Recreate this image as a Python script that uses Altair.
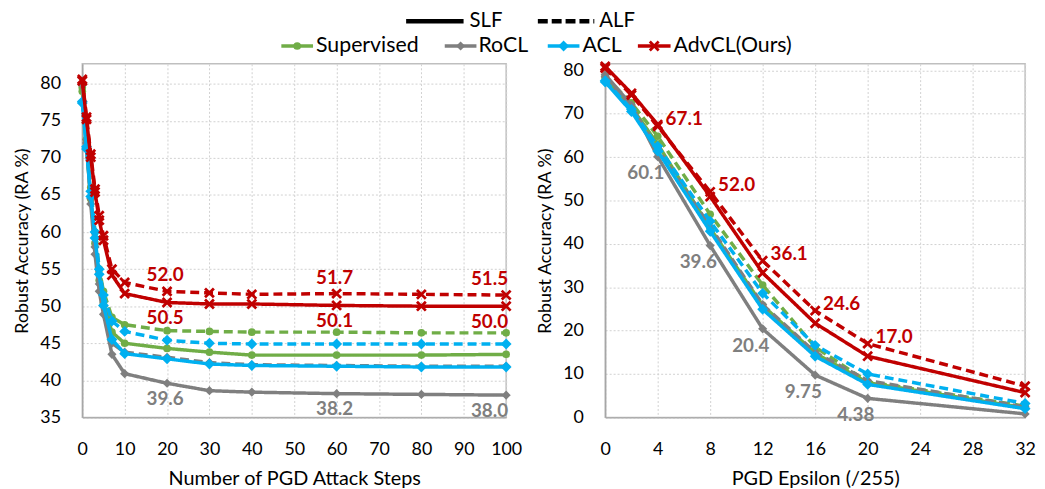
import altair as alt
import pandas as pd

methods = ["Supervised", "RoCL", "ACL", "AdvCL(Ours)"]
colors = ["#70AD47", "#7F7F7F", "#00B0F0", "#C00000"]
losses = ["SLF", "ALF"]

# ---- left panel: number of PGD attack steps ----
steps = [0, 1, 2, 3, 4, 5, 7, 10, 20, 30, 40, 60, 80, 100]
sup_slf_steps = [79.0, 71.5, 64.5, 58.5, 53.5, 50.5, 46.5, 45.0, 44.3, 43.8, 43.4, 43.4, 43.4, 43.5]
sup_alf_steps = [79.5, 72.5, 66.0, 60.0, 55.0, 52.0, 48.5, 47.5, 46.7, 46.6, 46.5, 46.5, 46.4, 46.4]
rocl_slf_steps = [79.8, 72.0, 63.8, 57.0, 52.0, 48.9, 43.5, 40.9, 39.6, 38.6, 38.4, 38.2, 38.1, 38.0]
rocl_alf_steps = [80.0, 72.5, 64.5, 58.0, 53.0, 50.0, 45.0, 43.8, 43.1, 42.4, 42.1, 42.0, 41.9, 41.9]
acl_slf_steps = [77.4, 71.2, 64.8, 59.2, 54.3, 50.1, 45.5, 43.6, 42.9, 42.2, 42.0, 41.9, 41.8, 41.8]
acl_alf_steps = [77.6, 71.5, 65.5, 60.0, 55.0, 51.5, 48.0, 46.6, 45.4, 45.0, 44.9, 44.9, 44.9, 44.9]
advcl_slf_steps = [80.4, 75.2, 70.1, 65.4, 61.6, 58.9, 54.2, 51.7, 50.5, 50.3, 50.3, 50.1, 50.0, 50.0]
advcl_alf_steps = [80.6, 75.5, 70.5, 65.8, 62.2, 59.5, 55.0, 53.2, 52.0, 51.8, 51.6, 51.7, 51.6, 51.5]

# ---- right panel: PGD epsilon ----
eps = [0, 2, 4, 8, 12, 16, 20, 32]
sup_slf_eps = [78.0, 71.5, 63.0, 43.6, 25.8, 14.8, 8.0, 2.2]
sup_alf_eps = [78.5, 72.5, 64.8, 46.8, 30.5, 16.2, 8.2, 2.6]
rocl_slf_eps = [79.0, 72.0, 60.1, 39.6, 20.4, 9.75, 4.38, 0.8]
rocl_alf_eps = [78.5, 71.5, 62.0, 44.0, 26.0, 15.0, 8.5, 2.4]
acl_slf_eps = [77.3, 70.5, 61.4, 42.9, 24.9, 14.1, 7.6, 2.0]
acl_alf_eps = [77.6, 71.0, 62.5, 45.2, 28.6, 16.6, 10.0, 3.2]
advcl_slf_eps = [80.9, 74.7, 67.5, 50.9, 33.3, 21.7, 14.1, 5.7]
advcl_alf_eps = [80.5, 74.3, 67.1, 52.0, 36.1, 24.6, 17.0, 7.2]

left_label_x = [20, 60, 100]
right_label_x = [4, 8, 12, 16, 20]

left_x_ticks = list(range(0, 101, 10))
left_y_ticks = list(range(35, 81, 5))
right_x_ticks = list(range(0, 33, 4))
right_y_ticks = list(range(0, 81, 10))

FONT = "Lato"

steps_series = {
    ("Supervised", "SLF"): sup_slf_steps, ("Supervised", "ALF"): sup_alf_steps,
    ("RoCL", "SLF"): rocl_slf_steps, ("RoCL", "ALF"): rocl_alf_steps,
    ("ACL", "SLF"): acl_slf_steps, ("ACL", "ALF"): acl_alf_steps,
    ("AdvCL(Ours)", "SLF"): advcl_slf_steps, ("AdvCL(Ours)", "ALF"): advcl_alf_steps,
}
eps_series = {
    ("Supervised", "SLF"): sup_slf_eps, ("Supervised", "ALF"): sup_alf_eps,
    ("RoCL", "SLF"): rocl_slf_eps, ("RoCL", "ALF"): rocl_alf_eps,
    ("ACL", "SLF"): acl_slf_eps, ("ACL", "ALF"): acl_alf_eps,
    ("AdvCL(Ours)", "SLF"): advcl_slf_eps, ("AdvCL(Ours)", "ALF"): advcl_alf_eps,
}


def to_df(xs, series):
    rows = []
    for (m, l), vals in series.items():
        for x, v in zip(xs, vals):
            rows.append({"x": x, "y": v, "method": m, "loss": l})
    return pd.DataFrame(rows)


left_df = to_df(steps, steps_series)
right_df = to_df(eps, eps_series)

X_PATH = "M-1,-1L1,1M-1,1L1,-1"
point_style = {
    "Supervised": dict(shape="circle", filled=True, size=60),
    "RoCL": dict(shape="diamond", filled=True, size=85),
    "ACL": dict(shape="diamond", filled=True, size=120),
    "AdvCL(Ours)": dict(shape=X_PATH, filled=False, size=80, strokeWidth=2.8),
}


def series_layers(df, X, Y):
    layers = []
    for m, c in zip(methods, colors):
        sub = df[df.method == m]
        base = alt.Chart(sub)
        line = base.mark_line(strokeWidth=3.5, color=c).encode(
            x=X, y=Y,
            strokeDash=alt.StrokeDash("loss:N", scale=alt.Scale(domain=losses, range=[[1, 0], [9, 5]]), legend=None),
            detail="loss:N",
        )
        pts = base.mark_point(color=c, opacity=1, **point_style[m]).encode(x=X, y=Y, detail="loss:N")
        layers += [line, pts]
    return layers


def label_rows(xs, series, key, label_x, kind):
    vals = dict(zip(xs, series[key]))
    return [{"x": x, "y": vals[x], "text": str(vals[x]), "kind": kind, "end": x == xs[-1]} for x in label_x]


# ---------------- left panel ----------------
LX = alt.X("x:Q", scale=alt.Scale(domain=[0, 100], nice=False, zero=False),
           axis=alt.Axis(values=left_x_ticks, title="Number of PGD Attack Steps", grid=True))
LY = alt.Y("y:Q", scale=alt.Scale(domain=[35, 82.7], nice=False, zero=False),
           axis=alt.Axis(values=left_y_ticks, title="Robust Accuracy (RA %)", grid=True))

left_layers = series_layers(left_df, LX, LY)

llab = pd.DataFrame(
    label_rows(steps, steps_series, ("AdvCL(Ours)", "ALF"), left_label_x, "redtop")
    + label_rows(steps, steps_series, ("AdvCL(Ours)", "SLF"), left_label_x, "redbot")
    + label_rows(steps, steps_series, ("RoCL", "SLF"), left_label_x, "gray")
)
for kind, col, dy in [("redtop", "#C00000", -16), ("redbot", "#C00000", 16), ("gray", "#7F7F7F", 16)]:
    for end, align, dx in [(False, "center", -2), (True, "right", 2)]:
        sub = llab[(llab.kind == kind) & (llab.end == end)]
        left_layers.append(
            alt.Chart(sub).mark_text(font=FONT, fontSize=19, fontWeight="bold", color=col,
                                     align=align, baseline="middle", dx=dx, dy=dy)
            .encode(x=LX, y=LY, text="text:N")
        )

# legend (drawn in pixel space above the left panel)
leg_one = pd.DataFrame({"k": [0]})
row1_y, row2_y = -43, -18
legend_layers = []
for lab, dash, x0, x1, tx in [("SLF", [1, 0], 327, 385, 391), ("ALF", [10, 4], 460, 517, 522)]:
    legend_layers.append(alt.Chart(leg_one).mark_rule(color="black", strokeWidth=4.5, strokeDash=dash)
                         .encode(x=alt.value(x0), x2=alt.value(x1), y=alt.value(row1_y)))
    legend_layers.append(alt.Chart(leg_one).mark_text(font=FONT, fontSize=20.5, align="left", baseline="middle", color="black")
                         .encode(x=alt.value(tx), y=alt.value(row1_y), text=alt.value(lab)))
leg_pos = [(201, 233, 236), (366, 398, 400), (470, 502, 505), (561, 594, 597)]
for m, c, (x0, x1, tx) in zip(methods, colors, leg_pos):
    legend_layers.append(alt.Chart(leg_one).mark_rule(color=c, strokeWidth=3.5)
                         .encode(x=alt.value(x0), x2=alt.value(x1), y=alt.value(row2_y)))
    legend_layers.append(alt.Chart(leg_one).mark_point(color=c, opacity=1, **point_style[m])
                         .encode(x=alt.value((x0 + x1) / 2), y=alt.value(row2_y)))
    legend_layers.append(alt.Chart(leg_one).mark_text(font=FONT, fontSize=21.5, align="left", baseline="middle", color="black")
                         .encode(x=alt.value(tx), y=alt.value(row2_y), text=alt.value(m)))

left = alt.layer(*(left_layers + legend_layers)).properties(width=428, height=357)

# ---------------- right panel ----------------
RX = alt.X("x:Q", scale=alt.Scale(domain=[0, 32], nice=False, zero=False),
           axis=alt.Axis(values=right_x_ticks, title="PGD Epsilon (/255)", grid=True))
RY = alt.Y("y:Q", scale=alt.Scale(domain=[0, 81.5], nice=False, zero=False),
           axis=alt.Axis(values=right_y_ticks, title="Robust Accuracy (RA %)", grid=True))

right_layers = series_layers(right_df, RX, RY)
rlab_red = pd.DataFrame(label_rows(eps, eps_series, ("AdvCL(Ours)", "ALF"), right_label_x, "red"))
rlab_gray = pd.DataFrame(label_rows(eps, eps_series, ("RoCL", "SLF"), right_label_x, "gray"))
right_layers.append(
    alt.Chart(rlab_red).mark_text(font=FONT, fontSize=19, fontWeight="bold", color="#C00000",
                                  align="left", baseline="middle", dx=8, dy=-7)
    .encode(x=RX, y=RY, text="text:N"))
right_layers.append(
    alt.Chart(rlab_gray).mark_text(font=FONT, fontSize=19, fontWeight="bold", color="#7F7F7F",
                                   align="center", baseline="middle", dx=-12, dy=17)
    .encode(x=RX, y=RY, text="text:N"))

right = alt.layer(*right_layers).properties(width=424, height=357)

chart = (
    alt.hconcat(left, right, spacing=100, bounds="flush")
    .properties(padding={"left": 5, "top": 0, "right": 0, "bottom": 0})
    .configure_view(stroke="#BFBFBF", strokeWidth=1.5)
    .configure_axis(
        labelFont=FONT, labelFontSize=18, labelColor="#000000",
        titleFont=FONT, titleFontSize=18, titleFontWeight="normal", titleColor="#000000",
        ticks=False, tickSize=0,
        gridColor="#D0D0D0", gridDash=[2, 2], gridWidth=1,
        domainColor="#A6A6A6", domainWidth=1.5,
    )
    .configure_axisX(labelPadding=23, titlePadding=11, titleFontSize=20, labelFlush=False, labelOverlap=False)
    .configure_axisY(labelPadding=22, titlePadding=8)
)

chart.save("out.html", embed_options={"renderer": "svg", "actions": False})
